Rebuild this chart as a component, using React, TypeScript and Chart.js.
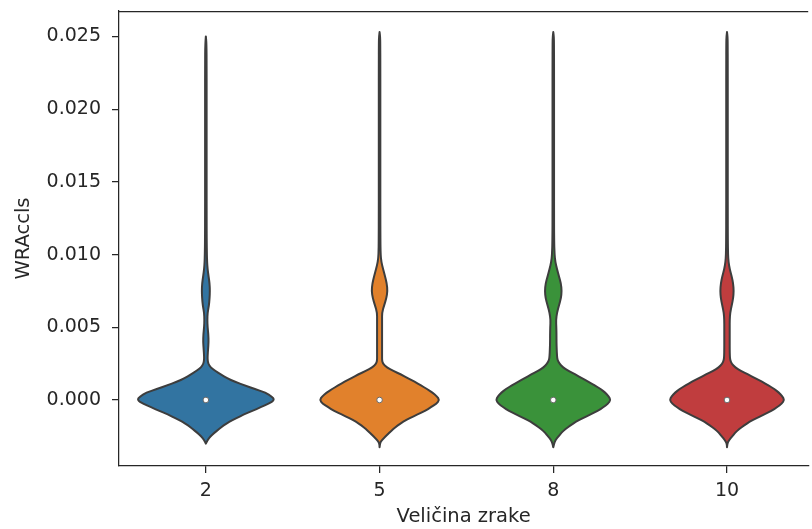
import React, { useEffect, useRef } from "react";
import { Chart, registerables } from "chart.js";

Chart.register(...registerables);

// ---- data ----
const categories = ["2", "5", "8", "10"];
const xAxisLabel = "Veličina zrake";
const yAxisLabel = "WRAccls";
const yTicks = [0, 0.005, 0.01, 0.015, 0.02, 0.025];
const yMin = -0.00454;
const yMax = 0.02675;

// KDE evaluation grid (WRAccls values)
const densityGrid = [
  -0.00325, -0.003, -0.00275, -0.0025, -0.00225, -0.002, -0.00175, -0.0015, -0.00125, -0.001,
  -0.00075, -0.0005, -0.00025, 0, 0.00025, 0.0005, 0.00075, 0.001, 0.00125, 0.0015,
  0.00175, 0.002, 0.00225, 0.0025, 0.00275, 0.003, 0.0035, 0.004, 0.0045, 0.005,
  0.0055, 0.006, 0.0065, 0.007, 0.0075, 0.008, 0.0085, 0.009, 0.0095, 0.01,
  0.011, 0.013, 0.015, 0.017, 0.019, 0.021, 0.023, 0.0245, 0.025, 0.0253,
];

// relative density (1 = widest violin) per category
const density2 = [
  0, 0, 0.025, 0.068, 0.125, 0.19, 0.254, 0.34, 0.44, 0.547,
  0.669, 0.79, 0.905, 0.99, 0.948, 0.862, 0.705, 0.562, 0.418, 0.304,
  0.218, 0.132, 0.068, 0.035, 0.026, 0.025, 0.032, 0.039, 0.036, 0.025,
  0.021, 0.025, 0.044, 0.054, 0.058, 0.054, 0.039, 0.025, 0.018, 0.015,
  0.012, 0.011, 0.011, 0.011, 0.011, 0.011, 0.011, 0.009, 0, 0,
];
const density5 = [
  0, 0.003, 0.032, 0.089, 0.139, 0.197, 0.261, 0.34, 0.433, 0.547,
  0.655, 0.74, 0.819, 0.862, 0.826, 0.762, 0.683, 0.597, 0.504, 0.404,
  0.311, 0.197, 0.104, 0.046, 0.036, 0.036, 0.036, 0.036, 0.036, 0.036,
  0.036, 0.036, 0.065, 0.098, 0.114, 0.104, 0.079, 0.051, 0.025, 0.015,
  0.012, 0.011, 0.011, 0.011, 0.011, 0.011, 0.011, 0.01, 0.008, 0,
];
const density8 = [
  0, 0.011, 0.032, 0.075, 0.118, 0.175, 0.247, 0.325, 0.426, 0.533,
  0.64, 0.719, 0.79, 0.826, 0.798, 0.747, 0.683, 0.597, 0.504, 0.411,
  0.318, 0.218, 0.139, 0.089, 0.061, 0.054, 0.049, 0.046, 0.046, 0.044,
  0.039, 0.054, 0.082, 0.111, 0.121, 0.111, 0.082, 0.054, 0.029, 0.018,
  0.012, 0.011, 0.011, 0.011, 0.011, 0.011, 0.011, 0.01, 0.008, 0,
];
const density10 = [
  0, 0.003, 0.032, 0.075, 0.118, 0.175, 0.247, 0.325, 0.426, 0.533,
  0.64, 0.719, 0.79, 0.826, 0.798, 0.747, 0.683, 0.597, 0.504, 0.404,
  0.304, 0.197, 0.118, 0.068, 0.046, 0.041, 0.039, 0.039, 0.039, 0.039,
  0.039, 0.046, 0.068, 0.089, 0.097, 0.089, 0.068, 0.039, 0.022, 0.015,
  0.012, 0.011, 0.011, 0.011, 0.011, 0.011, 0.011, 0.01, 0.008, 0,
];
const densities = [density2, density5, density8, density10];
const medians = [0, 0, 0, 0];

const violinColors = ["#3274a1", "#e1812c", "#3a923a", "#c03d3e"];
const lineGray = "#3d3d3d";
const axisColor = "#262626";
const fontFamily = "'DejaVu Sans', sans-serif";
const VIOLIN_WIDTH = 0.8;

function smoothSide(ctx: any, pts: number[][], first: boolean) {
  if (first) ctx.moveTo(pts[0][0], pts[0][1]);
  else ctx.lineTo(pts[0][0], pts[0][1]);
  for (let k = 1; k < pts.length - 1; k++) {
    const mx = (pts[k][0] + pts[k + 1][0]) / 2;
    const my = (pts[k][1] + pts[k + 1][1]) / 2;
    ctx.quadraticCurveTo(pts[k][0], pts[k][1], mx, my);
  }
  const l = pts[pts.length - 1];
  ctx.lineTo(l[0], l[1]);
}

const violinPlugin = {
  id: "violins",
  beforeDatasetsDraw(chart: any) {
    const { ctx } = chart;
    const xs = chart.scales.x;
    const ys = chart.scales.y;
    const unit = xs.getPixelForValue(1) - xs.getPixelForValue(0);
    const half = (VIOLIN_WIDTH / 2) * unit;
    densities.forEach((dens, i) => {
      const first = dens.findIndex((d) => d > 0);
      let last = dens.length - 1;
      while (last > 0 && !(dens[last] > 0)) last--;
      const start = Math.max(0, first - 1);
      const end = Math.min(dens.length - 1, last + 1);
      const cx = xs.getPixelForValue(i);
      const right: number[][] = [];
      const leftSide: number[][] = [];
      for (let k = start; k <= end; k++) {
        right.push([cx + dens[k] * half, ys.getPixelForValue(densityGrid[k])]);
      }
      for (let k = end; k >= start; k--) {
        leftSide.push([cx - dens[k] * half, ys.getPixelForValue(densityGrid[k])]);
      }
      ctx.save();
      ctx.beginPath();
      smoothSide(ctx, right, true);
      smoothSide(ctx, leftSide, false);
      ctx.closePath();
      ctx.fillStyle = violinColors[i];
      ctx.fill();
      ctx.lineWidth = 2;
      ctx.lineJoin = "round";
      ctx.strokeStyle = lineGray;
      ctx.stroke();
      ctx.restore();
    });
  },
  afterDraw(chart: any) {
    const { ctx, chartArea } = chart;
    ctx.save();
    ctx.strokeStyle = axisColor;
    ctx.lineWidth = 1.25;
    ctx.beginPath();
    ctx.moveTo(chartArea.left, Math.round(chartArea.top) + 0.5);
    ctx.lineTo(chartArea.right, Math.round(chartArea.top) + 0.5);
    ctx.stroke();
    ctx.restore();
  },
};

export default function App() {
  const ref = useRef<HTMLCanvasElement | null>(null);
  useEffect(() => {
    if (!ref.current) return;
    const W = 812;
    const left = 119;
    const unitPx = 174.67;
    const xMax = (W - left) / unitPx - 0.5;
    const chart = new Chart(ref.current, {
      type: "scatter",
      data: {
        datasets: [
          {
            data: medians.map((m, i) => ({ x: i, y: m })),
            pointRadius: 2.8,
            pointBackgroundColor: "#ffffff",
            pointBorderColor: "#6a6a6a",
            pointBorderWidth: 1,
            pointHoverRadius: 2.8,
          },
        ],
      },
      options: {
        animation: false,
        responsive: false,
        events: [],
        layout: { padding: { top: 11, left: 0, right: 0, bottom: 0 } },
        plugins: { legend: { display: false }, tooltip: { enabled: false } },
        scales: {
          x: {
            type: "linear",
            min: -0.5,
            max: xMax,
            afterBuildTicks: (s: any) => {
              s.ticks = categories.map((_, i) => ({ value: i }));
            },
            afterFit: (s: any) => {
              s.height = 63;
              s.paddingLeft = 0;
              s.paddingRight = 0;
              s.paddingTop = 0;
              s.paddingBottom = 0;
            },
            ticks: {
              callback: (v: any) => categories[v],
              autoSkip: false,
              maxRotation: 0,
              padding: 7,
              color: axisColor,
              font: { family: fontFamily, size: 19 },
            },
            grid: {
              drawOnChartArea: false,
              tickLength: 7,
              lineWidth: 1.25,
              color: axisColor,
            },
            border: { color: axisColor, width: 1.25 },
            title: {
              display: true,
              text: xAxisLabel,
              color: axisColor,
              font: { family: fontFamily, size: 19.5 },
              padding: { top: 0, bottom: 0 },
            },
          },
          y: {
            type: "linear",
            min: yMin,
            max: yMax,
            afterBuildTicks: (s: any) => {
              s.ticks = yTicks.map((v) => ({ value: v }));
            },
            afterFit: (s: any) => {
              s.width = left;
              s.paddingTop = 0;
              s.paddingBottom = 0;
              s.paddingLeft = 0;
              s.paddingRight = 0;
            },
            ticks: {
              callback: (v: any) => Number(v).toFixed(3),
              padding: 11,
              color: axisColor,
              font: { family: fontFamily, size: 19 },
            },
            grid: {
              drawOnChartArea: false,
              tickLength: 7,
              lineWidth: 1.25,
              color: axisColor,
            },
            border: { color: axisColor, width: 1.25 },
            title: {
              display: true,
              text: yAxisLabel,
              color: axisColor,
              font: { family: fontFamily, size: 19.5 },
              padding: { top: 12, bottom: 0 },
            },
          },
        },
      },
      plugins: [violinPlugin],
    } as any);
    return () => chart.destroy();
  }, []);
  return (
    <div style={{ position: "fixed", left: 0, top: 0, width: 812, height: 529, background: "#fff" }}>
      <canvas ref={ref} width={812} height={529} style={{ display: "block" }} />
    </div>
  );
}
